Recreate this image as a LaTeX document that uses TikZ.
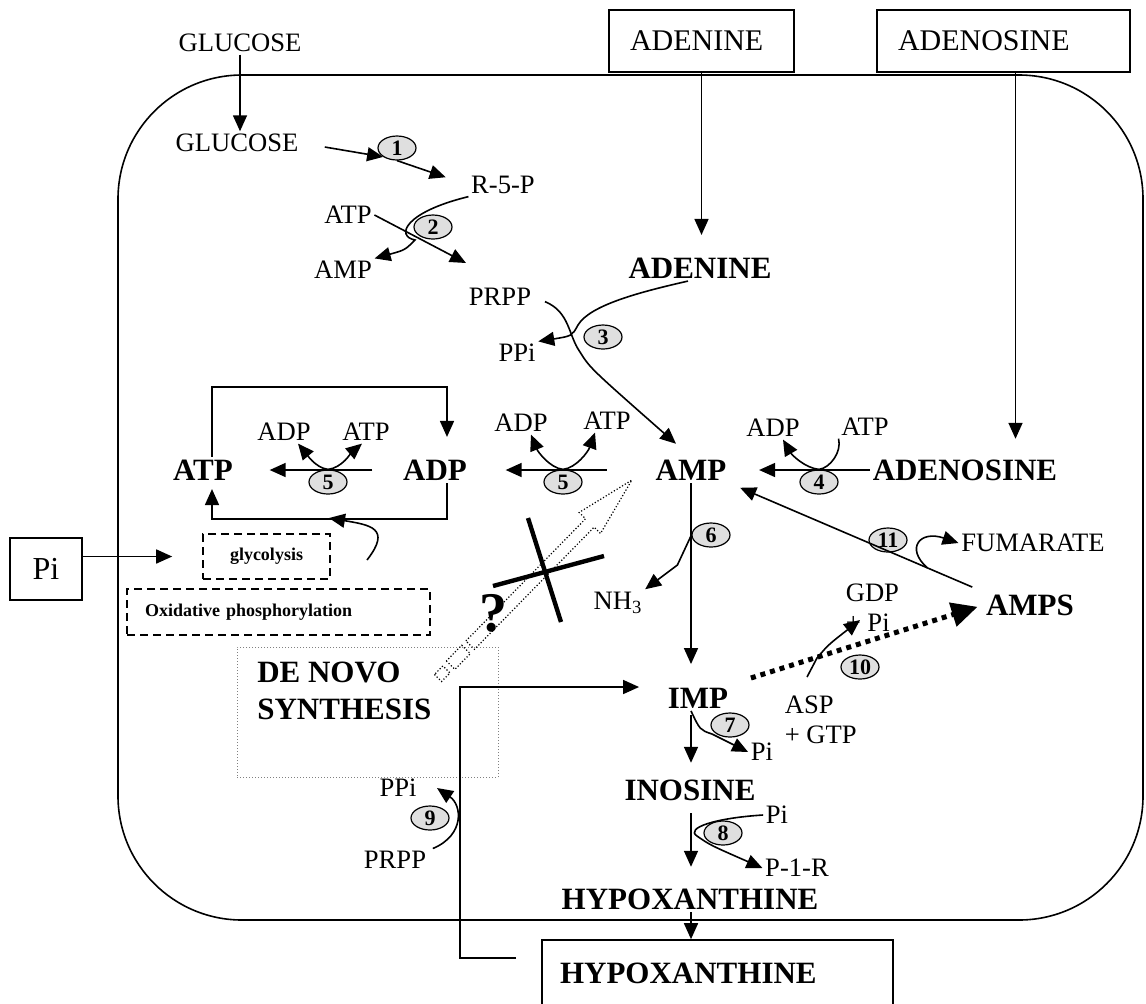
\documentclass[tikz,border=0pt]{standalone}
\usepackage{fontspec}
\setmainfont{Liberation Serif}
\usetikzlibrary{arrows.meta,positioning,shapes.geometric}

\begin{document}
\begin{tikzpicture}[x=0.5pt, y=-0.5pt, line width=0.8pt,
  met/.style={font=\fontsize{13.3}{15}\selectfont, inner sep=1pt},
  bmet/.style={font=\bfseries\fontsize{15.5}{18.5}\selectfont, inner sep=1pt},
  outbox/.style={draw, font=\fontsize{15}{17}\selectfont, minimum height=31pt, inner xsep=10.5pt, align=left},
  enz/.style={ellipse, draw, fill=gray!25, line width=0.6pt, minimum width=19pt, minimum height=12pt, inner sep=0pt, font=\bfseries\fontsize{11}{11}\selectfont},
  arr/.style={-{Triangle[length=8pt,width=7pt]}},
  dotarr/.style={line width=2.5pt, dash pattern=on 2.5pt off 2.5pt, -{Triangle[length=13pt,width=12pt]}},
  dashbox/.style={draw, dash pattern=on 4pt off 2.5pt, font=\bfseries\fontsize{9}{10}\selectfont}]
\useasboundingbox (0,0) rectangle (1146,1003);
%cell
\draw[rounded corners=62pt] (118,75) rectangle (1143,920);
%outside
\node[met] (gluout) at (240,43) {GLUCOSE};
\node[outbox, text width=71.5pt] (adeninebox) at (701.5,41) {ADENINE};
\node[outbox, text width=105.5pt] (adenosinebox) at (1003.5,41) {ADENOSINE};
\node[draw, font=\fontsize{16}{18}\selectfont, minimum width=36pt, minimum height=31pt] (pibox) at (46,569) {Pi};
\node[outbox, inner xsep=9pt, font=\bfseries\fontsize{15.5}{17}\selectfont, text width=157.5pt, minimum height=33pt] (hypbox) at (717.5,973) {HYPOXANTHINE};
%energy boxes
\node[dashbox, minimum width=63.5pt, minimum height=22.5pt] (glyc) at (266.5,556.5) {glycolysis};
\node[dashbox, minimum width=151.5pt, minimum height=23pt, inner xsep=9pt, text width=133.5pt, align=left] (oxphos) at (278.5,612) {Oxidative phosphorylation};
\node[draw, densely dotted, line width=0.5pt, gray, minimum width=130.5pt, minimum height=65pt] (denovobox) at (367.5,712) {};
\node[bmet, align=left, anchor=north west] (denovo) at ([xshift=9pt,yshift=-6.5pt]denovobox.north west) {DE NOVO\\SYNTHESIS};
%metabolites
\node[met] (gluin) at (237,143) {GLUCOSE};
\node[met] (r5p) at (503,185) {R-5-P};
\node[met] (atp2) at (348,215) {ATP};
\node[met] (amp2) at (343,270) {AMP};
\node[met] (prpp3) at (500,297) {PRPP};
\node[met] (ppi3) at (517,353) {PPi};
\node[bmet] (adenine) at (700,268) {ADENINE};
\node[bmet] (atp) at (203,470) {ATP};
\node[bmet] (adp) at (435,470) {ADP};
\node[bmet] (amp) at (691,470) {AMP};
\node[bmet] (adenosine) at (965,470) {ADENOSINE};
\node[met] (adp5a) at (284,432) {ADP};
\node[met] (atp5a) at (366,432) {ATP};
\node[met] (adp5b) at (521,423) {ADP};
\node[met] (atp5b) at (607,421) {ATP};
\node[met] (adp4) at (773,428) {ADP};
\node[met] (atp4) at (865,427) {ATP};
\node[met] (nh3) at (618,603) {NH\textsubscript{3}};
\node[met] (fumarate) at (1033,543) {FUMARATE};
\node[bmet] (amps) at (1030,605) {AMPS};
\node[met, align=left, anchor=west] (gdp) at (843,608) {GDP\\+ Pi};
\node[met, align=left, anchor=west] (asp) at (782,720) {ASP\\+ GTP};
\node[bmet] (imp) at (698,698) {IMP};
\node[met] (pi7) at (762,752) {Pi};
\node[bmet] (inosine) at (690,790) {INOSINE};
\node[met] (pi8) at (777,815) {Pi};
\node[met] (p1r) at (797,868) {P-1-R};
\node[bmet] (hypox) at (690,899) {HYPOXANTHINE};
\node[met] (ppi9) at (398,788) {PPi};
\node[met] (prpp9) at (395,860) {PRPP};
%enzymes
\node[enz] (e1) at (397,148) {1};
\node[enz] (e2) at (433,227) {2};
\node[enz] (e3) at (603,337) {3};
\node[enz] (e4) at (819,482) {4};
\node[enz] (e5a) at (328,482) {5};
\node[enz] (e5b) at (563,482) {5};
\node[enz] (e6) at (711,535) {6};
\node[enz] (e7) at (730,725) {7};
\node[enz] (e8) at (723,833) {8};
\node[enz] (e9) at (430,818) {9};
\node[enz] (e10) at (860,667) {10};
\node[enz] (e11) at (888,540) {11};
%free ends
\coordinate (r2tip) at (466,263);
\coordinate (glyout) at (367,560);
\coordinate (cyclebot) at (329,518);
\coordinate (r9tip) at (437,788);
\coordinate (r10in) at (807,677);
\coordinate (r10tip) at (860,620);
%glucose
\draw[arr] (gluout.south) -- (gluout.south |- gluin.north);
\draw[arr, shorten <=12pt] (gluin.east) -- (e1.south west);
\draw[arr, shorten >=12pt] (e1.south) -- (r5p.west);
%prpp synthesis
\draw[arr] (r5p.south west) .. controls (405,212) and (395,236) .. (415,240) .. controls (405,250) .. (amp2.north east);
\draw[arr] (atp2.east) -- (r2tip);
%adenine salvage
\draw[arr, shorten >=10pt] (adeninebox.south) -- (adeninebox.south |- adenine.north);
\draw[arr, shorten <=6pt, shorten >=10pt] (prpp3.east) .. controls (570,312) and (568,335) .. (580,352) .. controls (590,368) .. (amp.north);
\draw[arr] ([xshift=-6pt]adenine.south) .. controls (640,292) and (590,305) .. (578,325) .. controls (572,336) .. (ppi3.north east);
%adenosine
\draw[arr, shorten >=9pt] ([xshift=6pt]adenosinebox.south) -- ([xshift=6pt]adenosinebox.south |- adenosine.north);
\draw[arr, shorten >=15pt] (adenosine.west) -- (adenosine.west -| amp.east);
\draw[arr] (e4.north) .. controls (805,468) and (792,455) .. ([xshift=5pt]adp4.south);
\draw (e4.north) .. controls (830,468) and (842,452) .. (atp4.south west);
%kinases
\draw[arr, shorten <=23pt, shorten >=18pt] (amp.west) -- (adp.east);
\draw[arr] (e5b.north) .. controls (550,468) and (538,452) .. ([xshift=5pt]adp5b.south);
\draw[arr] (e5b.north) .. controls (576,468) and (588,452) .. ([xshift=-6pt]atp5b.south);
\draw[arr, shorten <=14pt, shorten >=17pt] (adp.west) -- (atp.east);
\draw[arr] (e5a.north) .. controls (315,468) and (305,452) .. ([xshift=7pt]adp5a.south);
\draw[arr] (e5a.north) .. controls (342,468) and (352,452) .. ([xshift=-2pt]atp5a.south);
%atp/adp cycle
\draw[arr, shorten >=10pt] ([xshift=4.5pt]atp.north) -- ++(0,-70) -| ([xshift=6pt]adp.north);
\draw[arr, shorten >=3pt] ([xshift=6pt]adp.south) -- ++(0,36) -| ([xshift=4.5pt]atp.south);
\draw[arr] (glyout) .. controls (392,528) and (370,525) .. (cyclebot);
\draw[arr, shorten >=15pt] (pibox.east |- glyc.west) -- (glyc.west);
%de novo
\begin{scope}[shift={(438,678)}, rotate=45.6, densely dotted, line width=0.6pt]
\draw (0,-5) rectangle (12,5);
\draw (18,-6) rectangle (40,6);
\draw (46,-6) -- (217,-6) -- (217,-15) -- (277,0) -- (217,15) -- (217,6) -- (46,6) -- cycle;
\end{scope}
\node[font=\bfseries\fontsize{28}{30}\selectfont, inner sep=0pt] (qmark) at (493,613) {?};
\draw[line width=2.2pt] (528,518) -- (561,622);
\draw[line width=2.2pt] (493,586) -- (604,556);
%degradation
\draw[arr, shorten >=10.5pt] (amp.south) -- (amp.south |- imp.north);
\draw[arr] (e6.west) -- ++(-14,30) -- (nh3.north east);
\draw[arr, shorten <=2pt, shorten >=7pt] (imp.south -| amp.south) -- (inosine.north -| amp.south);
\draw[arr] (imp.south -| amp.south) .. controls (700,730) .. (712,734) -- (pi7.west);
\draw[arr, shorten <=5pt, shorten >=9.5pt] (inosine.south -| amp.south) -- (hypox.north -| amp.south);
\draw[arr] (pi8.west) .. controls (715,818) and (685,828) .. (697,836) .. controls (710,845) .. (p1r.west);
\draw[arr] (hypox.south -| amp.south) -- (hypbox.north -| amp.south);
%salvage of hypoxanthine
\draw[arr, shorten >=13pt] ([xshift=-12.5pt,yshift=7.5pt]hypbox.west) -- ++(-56,0) |- ([yshift=5.5pt]imp.west);
\draw[arr] ([xshift=2pt]prpp9.north east) .. controls (465,835) and (462,805) .. (r9tip);
%amps
\draw[dotarr, shorten >=3pt] ([xshift=10pt,yshift=10pt]imp.east) -- (amps.west);
\draw[arr] (r10in) -- (817,658) .. controls (828,645) .. (r10tip);
\draw[arr, shorten <=6pt, shorten >=6pt] (amps.north west) -- (amp.south east) coordinate[pos=0.22] (j11);
\draw[arr] (j11) .. controls (905,548) and (920,530) .. (fumarate.west);
\end{tikzpicture}
\end{document}
